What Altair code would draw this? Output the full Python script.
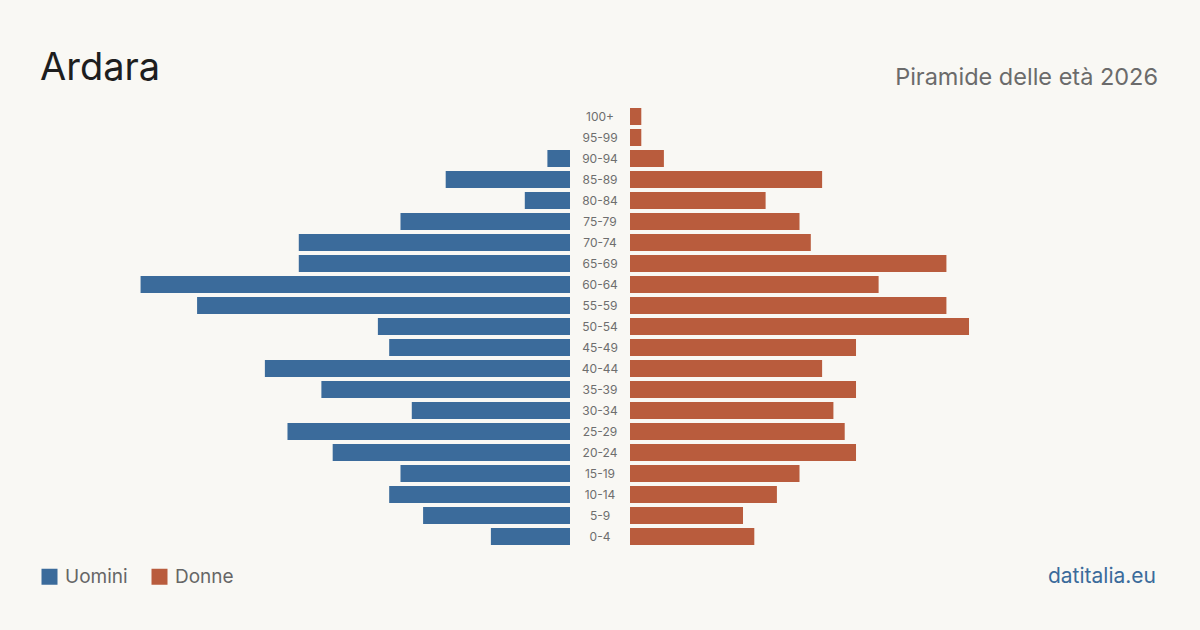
import altair as alt
import pandas as pd

# Age classes, top of the pyramid first
ages = ["100+", "95-99", "90-94", "85-89", "80-84", "75-79", "70-74", "65-69",
        "60-64", "55-59", "50-54", "45-49", "40-44", "35-39", "30-34", "25-29",
        "20-24", "15-19", "10-14", "5-9", "0-4"]
uomini = [0, 0, 2, 11, 4, 15, 24, 24, 38, 33, 17, 16, 27, 22, 14, 25, 21, 15, 16, 13, 7]
donne = [1, 1, 3, 17, 12, 15, 16, 28, 22, 28, 30, 20, 17, 20, 18, 19, 20, 15, 13, 10, 11]

sexes = ["Uomini", "Donne"]
colors = ["#3b6b9b", "#b95c3d"]

title_text = "Ardara"
subtitle_text = "Piramide delle età 2026"
source_text = "datitalia.eu"

rows = []
for a, m, f in zip(ages, uomini, donne):
    rows.append({"age": a, "sex": "Uomini", "value": m})
    rows.append({"age": a, "sex": "Donne", "value": f})
df = pd.DataFrame(rows)

W, H = 1120, 441
XMAX = 46.9
FONT = "Inter"

y_enc = alt.Y("age:N", sort=ages, axis=None,
              scale=alt.Scale(paddingInner=4 / 21, paddingOuter=2 / 21))
color_enc = alt.Color("sex:N",
                      scale=alt.Scale(domain=sexes, range=colors),
                      legend=alt.Legend(orient="none", legendX=0, legendY=H + 20,
                                        direction="horizontal", title=None,
                                        symbolType="square", symbolSize=256,
                                        symbolStrokeWidth=0, symbolOpacity=1,
                                        labelFontSize=19, labelFont=FONT,
                                        labelColor="#666666", labelOffset=6,
                                        columnPadding=22, labelLimit=200))

base = alt.Chart(df)

men = base.transform_filter(alt.datum.sex == "Uomini").mark_bar().encode(
    x=alt.X("value:Q", axis=None,
            scale=alt.Scale(domain=[0, XMAX], range=[530, 0], nice=False)),
    y=y_enc,
    color=color_enc,
)

women = base.transform_filter(alt.datum.sex == "Donne").mark_bar().encode(
    x=alt.X("value:Q", axis=None,
            scale=alt.Scale(domain=[0, XMAX], range=[590, 1120], nice=False)),
    y=y_enc,
    color=color_enc,
)

labels = base.transform_filter(alt.datum.sex == "Donne").mark_text(
    font=FONT, fontSize=12, color="#6e6e6e", baseline="middle", align="center"
).encode(
    x=alt.value(560),
    y=alt.Y("age:N", sort=ages, axis=None),
    text="age:N",
)

title = alt.Chart(alt.Data(values=[{"t": title_text}])).mark_text(
    font=FONT, fontSize=38, color="#1e1e1e", align="left", baseline="alphabetic"
).encode(x=alt.value(0), y=alt.value(-26), text="t:N")

subtitle = alt.Chart(alt.Data(values=[{"t": subtitle_text}])).mark_text(
    font=FONT, fontSize=23.5, color="#6b6b6b", align="right", baseline="alphabetic"
).encode(x=alt.value(1118), y=alt.value(-21), text="t:N")

source = alt.Chart(alt.Data(values=[{"t": source_text}])).mark_text(
    font=FONT, fontSize=21, color="#3b6b9b", align="right", baseline="alphabetic"
).encode(x=alt.value(1116), y=alt.value(H + 36), text="t:N")

chart = alt.layer(men, women, labels, title, subtitle, source).resolve_scale(
    x="independent"
).properties(
    width=W, height=H,
    autosize=alt.AutoSizeParams(type="none"),
    padding={"left": 40, "top": 106, "right": 40, "bottom": 83},
    background="#f9f8f4",
).configure_view(stroke=None)

chart.save("out.html", embed_options={"renderer": "svg", "actions": False})
